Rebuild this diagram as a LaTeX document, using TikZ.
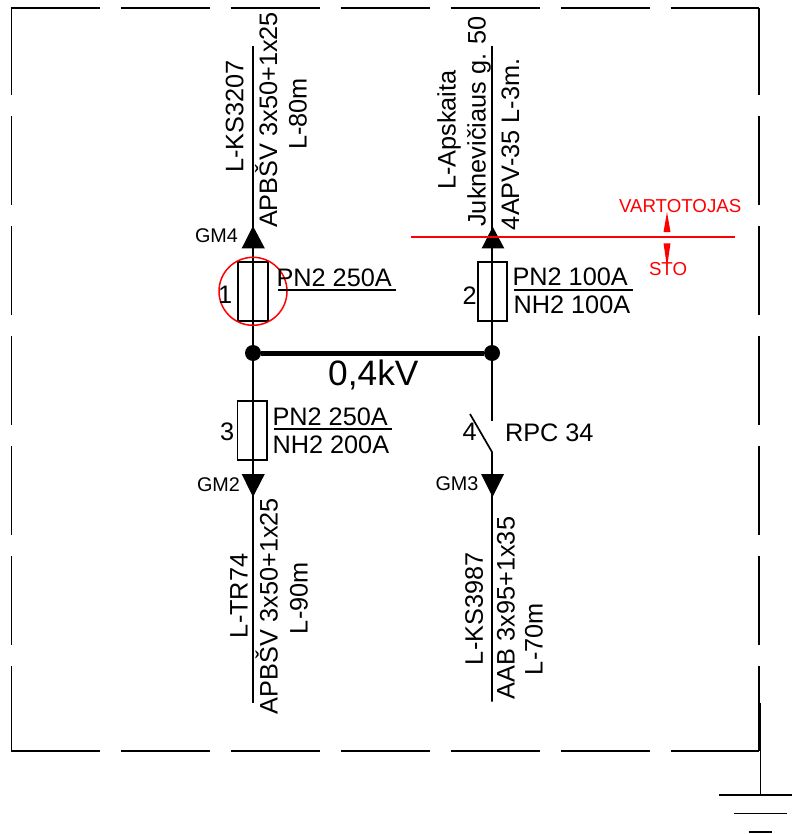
\documentclass[tikz,border=0pt]{standalone}
\usepackage{fontspec}
\setmainfont{Liberation Sans}
\tikzset{
  x=1pt,y=-1pt,
  wire/.style={line width=1.7pt,black},
  framedash/.style={line width=1.7pt,black,dash pattern=on 89pt off 21pt},
  fuse/.style={draw,line width=1.7pt,fill=none,rectangle,minimum width=29.5pt,minimum height=59pt,inner sep=0pt,outer sep=0pt},
  busdot/.style={circle,fill=black,minimum size=16pt,inner sep=0pt,outer sep=0pt},
  lbl/.style={inner sep=0pt,outer sep=0pt,anchor=base west,font=\fontsize{25.3}{25}\selectfont},
  vlbl/.style={lbl,rotate=90},
  gm/.style={inner sep=0pt,outer sep=0pt,anchor=base west,font=\fontsize{19.8}{20}\selectfont},
  redlbl/.style={inner sep=0pt,outer sep=0pt,anchor=base west,text=red,font=\fontsize{18.7}{19}\selectfont},
  head/.style={fill=black,draw=none},
  redhead/.style={fill=red,draw=none},
}
\begin{document}
\begin{tikzpicture}
\useasboundingbox (0,0) rectangle (792,834);
% frame
\coordinate (tl) at (11.5,8);
\coordinate (tr) at (759,8);
\coordinate (bl) at (11.5,751);
\coordinate (br) at (759,751);
\draw[framedash] (10.7,8) -- (tr);
\draw[framedash] (10.7,751) -- (br);
\draw[framedash,dash phase=2.3pt] (tl) -- (bl);
\draw[framedash,dash phase=2.3pt] (tr) -- (br);
% earth
\coordinate (e0) at (760.5,703);
\coordinate (e1) at (760.5,795);
\draw[wire] (e0) -- (e1);
\coordinate (g1a) at (719,795); \coordinate (g1b) at (792,795);
\coordinate (g2a) at (734,813.5); \coordinate (g2b) at (786.5,813.5);
\coordinate (g3a) at (748.5,831.5); \coordinate (g3b) at (772,831.5);
\draw[wire] (g1a) -- (g1b);
\draw[wire] (g2a) -- (g2b);
\draw[line width=2pt] (g3a) -- (g3b);
% bus
\node[busdot] (b1) at (253,353) {};
\node[busdot] (b2) at (492,353) {};
\draw[line width=5pt] (b1) -- (b2);
% fuses
\node[fuse] (f1) at (253,291.3) {};
\node[fuse] (f2) at (492.5,291.8) {};
\node[fuse] (f3) at (252.3,430.3) {};
% line ends
\coordinate (t1) at (253,46.5);
\coordinate (t2) at (492,46);
\coordinate (d1) at (253,703);
\coordinate (d2) at (492,701.7);
\draw[wire] (t1) -- (b1.center);
\draw[wire] (t2) -- (b2.center);
\draw[wire] (b1.center) -- (d1);
% switch
\coordinate (s1) at (492,420.7);
\coordinate (s2) at (492,452);
\coordinate (s3) at (470,414);
\draw[wire] (b2.center) -- (s1);
\draw[wire] (s3) -- (s2) -- (d2);
% arrowheads
\fill[head] (253,226) -- (264.8,248.3) -- (241.7,248.3) -- cycle;
\fill[head] (492.7,226.7) -- (504.3,248.3) -- (481.7,248.3) -- cycle;
\fill[head] (253,497) -- (264.8,474) -- (241.7,474) -- cycle;
\fill[head] (492.5,497) -- (504,474) -- (481,474) -- cycle;
% red
\node[draw=red,line width=1.5pt,circle,minimum size=68pt,inner sep=0pt] (rc) at (253,291.3) {};
\coordinate (r1) at (411,237);
\coordinate (r2) at (735,237);
\draw[red,line width=1.5pt] (r1) -- (r2);
\fill[redhead] (667,212) -- (670.5,232) -- (663.5,232) -- cycle;
\fill[redhead] (667,267) -- (670.5,243.3) -- (663.5,243.3) -- cycle;
\node[redlbl] (v) at (619,213) {VARTOTOJAS};
\node[redlbl] (st) at (649,275.7) {STO};
% underlines
\coordinate (u1a) at (277.7,290); \coordinate (u1b) at (396,290);
\coordinate (u2a) at (514,290); \coordinate (u2b) at (632.7,290);
\coordinate (u3a) at (274,429); \coordinate (u3b) at (392,429);
\draw[wire] (u1a) -- (u1b);
\draw[wire] (u2a) -- (u2b);
\draw[wire] (u3a) -- (u3b);
% labels
\node[lbl] (a1) at (276.5,286) {PN2 250A};
\node[lbl] (a2) at (512.5,285.7) {PN2 100A};
\node[lbl] (a3) at (513.5,313.3) {NH2 100A};
\node[lbl] (a4) at (272.5,425) {PN2 250A};
\node[lbl] (a5) at (272.5,453.3) {NH2 200A};
\node[lbl] (n1) at (218,303) {1};
\node[lbl] (n2) at (462.5,304) {2};
\node[lbl] (n3) at (220,440) {3};
\node[lbl] (n4) at (462.5,440) {4};
\node[lbl] (rpc) at (505,441.7) {RPC 34};
\node[gm] (g4) at (195,242.7) {GM4};
\node[gm] (g2) at (197,491.7) {GM2};
\node[gm] (g3) at (435.5,490.7) {GM3};
\node[inner sep=0pt,anchor=base west,font=\fontsize{35.3}{35}\selectfont] (kv) at (328,385.5) {0,4kV};
% rotated labels
\node[vlbl] (c1) at (243.3,173) {L-KS3207};
\node[vlbl] (c2) at (277.2,228) {APBŠV 3x50+1x25};
\node[vlbl] (c3) at (306.5,150) {L-80m};
\node[vlbl] (c4) at (455.5,190) {L-Apskaita};
\node[vlbl] (c5) at (485.5,226.7) {Juknevičiaus g.\hspace{9pt}50};
\node[vlbl] (c6) at (519,230) {4APV-35 L-3m.};
\node[vlbl] (c7) at (247.5,638) {L-TR74};
\node[vlbl] (c8) at (277.5,714) {APBŠV 3x50+1x25};
\node[vlbl] (c9) at (307.5,634) {L-90m};
\node[vlbl] (c10) at (482.8,665) {L-KS3987};
\node[vlbl] (c11) at (514.5,699) {AAB 3x95+1x35};
\node[vlbl] (c12) at (542.5,675) {L-70m};
\end{tikzpicture}
\end{document}
